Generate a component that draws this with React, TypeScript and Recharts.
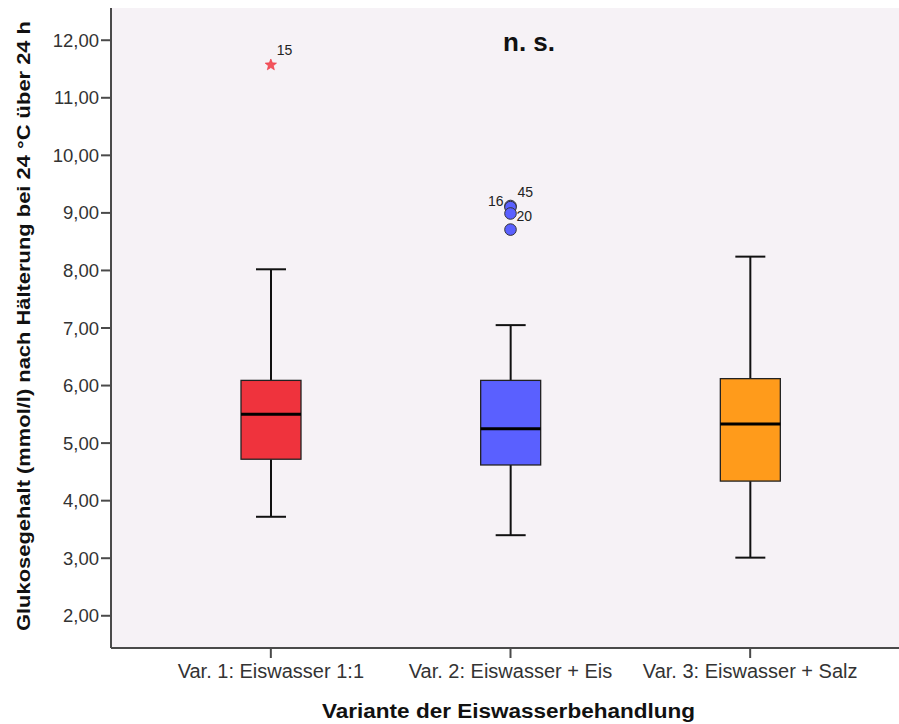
import React from 'react';
import { ComposedChart, Bar, Scatter, XAxis, YAxis, CartesianGrid } from 'recharts';

// Groups (x axis) and the five-number summaries
const categories = ['Var. 1: Eiswasser 1:1', 'Var. 2: Eiswasser + Eis', 'Var. 3: Eiswasser + Salz'];
const whiskerLow = [3.72, 3.4, 3.01];
const quartile1 = [4.72, 4.62, 4.34];
const medians = [5.5, 5.25, 5.33];
const quartile3 = [6.09, 6.09, 6.12];
const whiskerHigh = [8.02, 7.05, 8.24];
const boxColors = ['#EF333D', '#5A60FF', '#FF9B1B'];

// extreme value (star) and outliers (circles) with their case numbers
const extremes = [{ name: categories[0], value: 11.57, id: '15' }];
const outliers = [
  { name: categories[1], value: 9.12, id: '45' },
  { name: categories[1], value: 9.1, id: '16' },
  { name: categories[1], value: 8.99, id: '20' },
  { name: categories[1], value: 8.71, id: '' },
];

const yTicks = [2, 3, 4, 5, 6, 7, 8, 9, 10, 11, 12];

const data = categories.map((name, i) => ({
  name,
  low: whiskerLow[i],
  q1: quartile1[i],
  median: medians[i],
  q3: quartile3[i],
  high: whiskerHigh[i],
  color: boxColors[i],
}));

const FONT = '"Liberation Sans", Arial, sans-serif';
const AXIS = '#4a4a4a';

const BoxShape = (props: any) => {
  const { x, y, width, height, payload } = props;
  if (!payload || !height) return null;
  const span = payload.high - payload.low;
  const toY = (v: number) => y + ((payload.high - v) / span) * height;
  const cx = x + width / 2;
  const half = width / 2;
  const cap = 15;
  return (
    <g>
      <line x1={cx} x2={cx} y1={toY(payload.high)} y2={toY(payload.q3)} stroke="#111" strokeWidth={2} />
      <line x1={cx} x2={cx} y1={toY(payload.q1)} y2={toY(payload.low)} stroke="#111" strokeWidth={2} />
      <line x1={cx - cap} x2={cx + cap} y1={toY(payload.high)} y2={toY(payload.high)} stroke="#111" strokeWidth={2} />
      <line x1={cx - cap} x2={cx + cap} y1={toY(payload.low)} y2={toY(payload.low)} stroke="#111" strokeWidth={2} />
      <rect
        x={cx - half}
        y={toY(payload.q3)}
        width={width}
        height={toY(payload.q1) - toY(payload.q3)}
        fill={payload.color}
        stroke="#222"
        strokeWidth={1.3}
      />
      <line x1={cx - half} x2={cx + half} y1={toY(payload.median)} y2={toY(payload.median)} stroke="#000" strokeWidth={3} />
    </g>
  );
};

const StarShape = (props: any) => {
  const { cx, cy, payload } = props;
  const pts: string[] = [];
  for (let k = 0; k < 10; k++) {
    const r = k % 2 === 0 ? 6 : 2.6;
    const a = -Math.PI / 2 + (k * Math.PI) / 5;
    pts.push(`${cx + r * Math.cos(a)},${cy + r * Math.sin(a)}`);
  }
  return (
    <g>
      <polygon points={pts.join(' ')} fill="#F2545C" stroke="#EE3340" strokeWidth={0.6} />
      <text x={cx + 6} y={cy - 10} fontSize={14} fontFamily={FONT} fill="#222">
        {payload.id}
      </text>
    </g>
  );
};

// where each case number sits relative to its circle
const labelPlace: Record<string, { dx: number; dy: number; anchor: string }> = {
  '16': { dx: -7, dy: -1, anchor: 'end' },
  '45': { dx: 7, dy: -9, anchor: 'start' },
  '20': { dx: 6, dy: 8, anchor: 'start' },
};

const CircleShape = (props: any) => {
  const { cx, cy, payload } = props;
  const place = labelPlace[payload.id];
  return (
    <g>
      <circle cx={cx} cy={cy} r={5.8} fill="#5A60FF" stroke="#333" strokeWidth={1} />
      {place && (
        <text x={cx + place.dx} y={cy + place.dy} textAnchor={place.anchor} fontSize={14} fontFamily={FONT} fill="#222">
          {payload.id}
        </text>
      )}
    </g>
  );
};

const YTitle = (props: any) => {
  const vb = props.viewBox || {};
  const x = vb.x + 23;
  const y = vb.y + vb.height / 2 - 2;
  return (
    <text
      x={x}
      y={y}
      transform={`rotate(-90, ${x}, ${y})`}
      textAnchor="middle"
      dominantBaseline="central"
      fontSize={19}
      fontWeight="bold"
      fontFamily={FONT}
      fill="#111"
      textLength={610}
      lengthAdjust="spacingAndGlyphs"
    >
      Glukosegehalt (mmol/l) nach Hälterung bei 24 °C über 24 h
    </text>
  );
};

const XTitle = (props: any) => {
  const vb = props.viewBox || {};
  return (
    <text
      x={vb.x + vb.width / 2 - 2}
      y={vb.y + 70}
      textAnchor="middle"
      fontSize={20}
      fontWeight="bold"
      fontFamily={FONT}
      fill="#111"
      textLength={373}
      lengthAdjust="spacingAndGlyphs"
    >
      Variante der Eiswasserbehandlung
    </text>
  );
};

export default function App() {
  return (
    <div
      style={{
        position: 'absolute',
        left: 0,
        top: 0,
        width: 899,
        height: 724,
        overflow: 'hidden',
        background: '#fff',
      }}
    >
      <ComposedChart width={920} height={724} data={data} margin={{ top: 8, right: 10, bottom: 0, left: 0 }}>
        <CartesianGrid fill="#F6F2F6" horizontal={false} vertical={false} />
        <XAxis
          dataKey="name"
          type="category"
          allowDuplicatedCategory={false}
          height={76}
          padding={{ left: 40, right: 40 }}
          axisLine={{ stroke: AXIS, strokeWidth: 2 }}
          tickLine={{ stroke: AXIS, strokeWidth: 2 }}
          tickSize={10}
          tickMargin={6}
          interval={0}
          tick={{ fill: '#333', fontSize: 20, fontFamily: FONT }}
          label={<XTitle />}
        />
        <XAxis
          xAxisId="top"
          dataKey="name"
          orientation="top"
          allowDuplicatedCategory={false}
          height={0}
          tick={false}
          tickLine={false}
          axisLine={{ stroke: AXIS, strokeWidth: 2 }}
        />
        <YAxis
          type="number"
          domain={[1.44, 12.56]}
          ticks={yTicks}
          width={111}
          axisLine={{ stroke: AXIS, strokeWidth: 2 }}
          tickLine={{ stroke: AXIS, strokeWidth: 2 }}
          tickSize={10}
          tickMargin={2}
          tickFormatter={(v: number) => v.toFixed(2).replace('.', ',')}
          tick={{ fill: '#333', fontSize: 18.5, fontFamily: FONT }}
          label={<YTitle />}
        />
        <Bar dataKey={(d: any) => [d.low, d.high]} barSize={60} shape={<BoxShape />} isAnimationActive={false} />
        <Scatter data={extremes} dataKey="value" shape={<StarShape />} isAnimationActive={false} />
        <Scatter data={outliers} dataKey="value" shape={<CircleShape />} isAnimationActive={false} />
      </ComposedChart>
      <div
        style={{
          position: 'absolute',
          left: 503,
          top: 27,
          fontFamily: FONT,
          fontWeight: 'bold',
          fontSize: 26,
          color: '#111',
          lineHeight: '30px',
        }}
      >
        n. s.
      </div>
    </div>
  );
}
